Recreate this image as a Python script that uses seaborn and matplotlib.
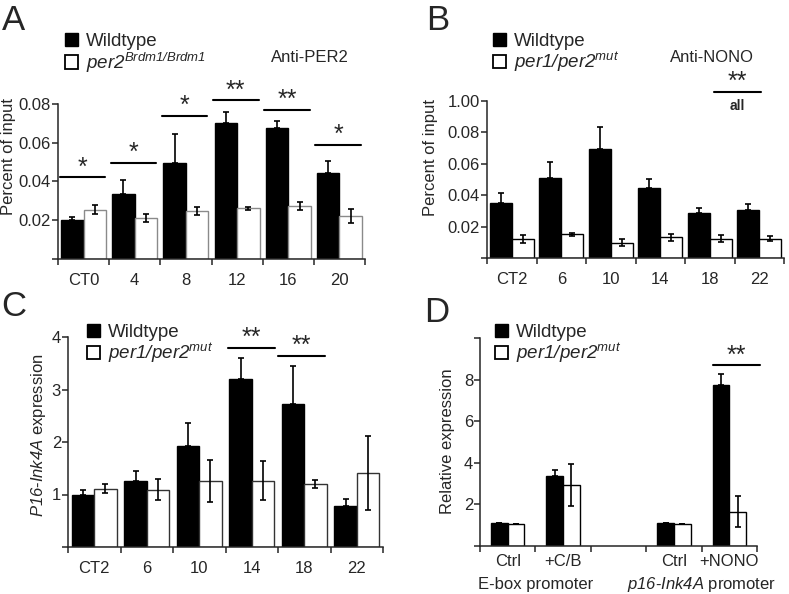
import matplotlib
matplotlib.use("Agg")
import matplotlib.pyplot as plt
import seaborn as sns
import pandas as pd
import numpy as np
from matplotlib.patches import Patch

# ---- data ----
a_times = ["CT0", "4", "8", "12", "16", "20"]
a_wt = [0.020, 0.0335, 0.0495, 0.070, 0.0678, 0.0443]
a_wt_err = [0.0018, 0.007, 0.015, 0.006, 0.0033, 0.006]
a_mut = [0.0253, 0.0212, 0.0247, 0.026, 0.0272, 0.022]
a_mut_err = [0.0023, 0.002, 0.002, 0.0006, 0.002, 0.0035]
a_sig_y = [0.0422, 0.0495, 0.074, 0.082, 0.077, 0.059]
a_sig = ["*", "*", "*", "**", "**", "*"]

b_times = ["CT2", "6", "10", "14", "18", "22"]
b_wt = [0.0353, 0.0511, 0.0695, 0.0445, 0.0289, 0.0306]
b_wt_err = [0.0064, 0.0099, 0.0141, 0.0058, 0.0031, 0.0041]
b_mut = [0.012, 0.015, 0.0098, 0.0133, 0.0124, 0.0124]
b_mut_err = [0.0025, 0.0007, 0.0023, 0.0023, 0.0025, 0.0018]

c_times = ["CT2", "6", "10", "14", "18", "22"]
c_wt = [1.0, 1.25, 1.92, 3.2, 2.73, 0.79]
c_wt_err = [0.09, 0.19, 0.44, 0.4, 0.71, 0.13]
c_mut = [1.11, 1.09, 1.25, 1.26, 1.2, 1.41]
c_mut_err = [0.09, 0.2, 0.4, 0.37, 0.08, 0.7]

d_slots = ["Ctrl_E", "C/B", "gap", "Ctrl_P", "NONO"]
d_conds = ["Ctrl_E", "C/B", "Ctrl_P", "NONO"]
d_labels = ["Ctrl", "+C/B", "", "Ctrl", "+NONO"]
d_wt = [1.09, 3.38, 1.09, 7.73]
d_wt_err = [0, 0.27, 0, 0.56]
d_mut = [1.04, 2.93, 1.04, 1.65]
d_mut_err = [0, 1.0, 0, 0.75]

sns.set_style("ticks")
plt.rcParams['font.family'] = ['Liberation Sans', 'DejaVu Sans']
plt.rcParams['mathtext.fontset'] = 'custom'
plt.rcParams['mathtext.rm'] = 'Liberation Sans:italic'
plt.rcParams['mathtext.it'] = 'Liberation Sans:italic'
plt.rcParams['axes.linewidth'] = 1.1

W, H = 789, 594
fig = plt.figure(figsize=(W / 100, H / 100), dpi=100)


def place(l, r, t, b):
    return fig.add_axes([l / W, 1 - b / H, (r - l) / W, (b - t) / H])


def bars(ax, cats, wt, wt_err, mut, mut_err, order=None, width=0.88, mut_edge="black"):
    df = pd.DataFrame({
        "cat": list(cats) * 2,
        "geno": ["WT"] * len(cats) + ["mut"] * len(cats),
        "val": list(wt) + list(mut),
    })
    sns.barplot(data=df, x="cat", y="val", hue="geno", hue_order=["WT", "mut"],
                order=order, palette={"WT": "black", "mut": "white"},
                edgecolor="black", linewidth=1.0, width=width, gap=0,
                errorbar=None, legend=False, ax=ax)
    for p in ax.containers[1]:
        p.set_edgecolor(mut_edge)
    for cont, errs, both in [(ax.containers[0], wt_err, False), (ax.containers[1], mut_err, True)]:
        xs = [p.get_x() + p.get_width() / 2 for p in cont]
        ys = [p.get_height() for p in cont]
        lo = errs if both else [0] * len(errs)
        ax.errorbar(xs, ys, yerr=[lo, errs], fmt="none", ecolor="black",
                    elinewidth=1.2, capsize=2.5, capthick=1.2, zorder=5)
    n = len(order) if order else len(cats)
    ax.set_xlim(-0.5, n - 0.5)
    ax.set_xticks(np.arange(n))
    ax.set_xticks(np.arange(-0.5, n), minor=True)
    ax.tick_params(axis="x", which="major", length=0, labelsize=12, pad=10)
    ax.tick_params(axis="x", which="minor", length=4, width=1.1, direction="out")
    ax.tick_params(axis="y", length=4, width=1.1, labelsize=12, pad=1)
    ax.set_xlabel("")
    sns.despine(ax=ax)


def sig(ax, x0, x1, y, txt):
    ax.plot([x0, x1], [y, y], color="black", lw=1.5, clip_on=False)
    ax.annotate(txt, ((x0 + x1) / 2, y), xytext=(0, 7), textcoords="offset points",
                ha="center", va="center", fontsize=18, annotation_clip=False)


def legend(ax, x, y, mut_label):
    h = [Patch(facecolor="black", edgecolor="black"),
         Patch(facecolor="white", edgecolor="black", linewidth=1.3)]
    ax.legend(h, ["Wildtype", mut_label], loc="upper left",
              bbox_to_anchor=(x / W, 1 - y / H), bbox_transform=fig.transFigure,
              frameon=False, fontsize=13.5, handlelength=0.7, handleheight=0.7,
              handletextpad=0.4, labelspacing=0.02, borderpad=0, borderaxespad=0)


mut12 = r"$\mathit{per1/per2}^{\mathit{mut}}$"

# ---- A ----
axA = place(58, 365, 104, 258.7)
bars(axA, a_times, a_wt, a_wt_err, a_mut, a_mut_err, mut_edge="#8a8a8a")
axA.set_ylim(0, 0.08)
axA.set_yticks([0, 0.02, 0.04, 0.06, 0.08])
axA.set_yticklabels(["", "0.02", "0.04", "0.06", "0.08"])
axA.set_xticklabels(a_times)
axA.set_ylabel("Percent of input", fontsize=12)
axA.yaxis.set_label_coords(-0.137, 0.66)
for i, (y, s) in enumerate(zip(a_sig_y, a_sig)):
    sig(axA, i - 0.47, i + 0.42, y, s)
legend(axA, 65, 33, r"$\mathit{per2}^{\mathit{Brdm1/Brdm1}}$")
fig.text(310 / W, 1 - 57 / H, "Anti-PER2", fontsize=12, ha="center", va="center")

# ---- B ----
axB = place(487, 784, 101, 258)
bars(axB, b_times, b_wt, b_wt_err, b_mut, b_mut_err, width=0.89)
axB.set_ylim(0, 0.10)
axB.set_yticks([0, 0.02, 0.04, 0.06, 0.08, 0.10])
axB.set_yticklabels(["", "0.02", "0.04", "0.06", "0.08", "1.00"])
axB.set_xticklabels(b_times)
axB.set_ylabel("Percent of input", fontsize=12)
axB.yaxis.set_label_coords(-0.165, 0.64)
sig(axB, 4.09, 5.04, 0.1058, "**")
axB.annotate("all", (4.56, 0.1058), xytext=(0, -10), textcoords="offset points",
             ha="center", va="center", fontsize=10, fontweight="bold", annotation_clip=False)
legend(axB, 493, 33, mut12)
fig.text(712 / W, 1 - 57 / H, "Anti-NONO", fontsize=12, ha="center", va="center")

# ---- C ----
axC = place(68, 383, 337, 547)
bars(axC, c_times, c_wt, c_wt_err, c_mut, c_mut_err, width=0.85, mut_edge="#333333")
axC.set_ylim(0, 4)
axC.set_yticks([0, 1, 2, 3, 4])
axC.set_yticklabels(["", "1", "2", "3", "4"])
axC.set_xticklabels(c_times)
axC.set_ylabel(r"$\mathit{P16}$-$\mathit{Ink4A}$ expression", fontsize=12)
axC.yaxis.set_label_coords(-0.063, 0.53)
sig(axC, 2.55, 3.44, 3.8, "**")
sig(axC, 3.5, 4.4, 3.64, "**")
legend(axC, 87, 324, mut12)

# ---- D ----
axD = place(480, 757, 338, 546)
bars(axD, d_conds, d_wt, d_wt_err, d_mut, d_mut_err, order=d_slots, width=0.6)
axD.set_ylim(0, 10)
axD.set_yticks([0, 2, 4, 6, 8, 10])
axD.set_yticklabels(["", "2", "4", "6", "8", ""])
axD.set_xticklabels(d_labels)
axD.tick_params(axis="x", which="major", pad=6)
axD.set_ylabel("Relative expression", fontsize=12)
axD.yaxis.set_label_coords(-0.09, 0.505)
sig(axD, 3.7, 4.55, 8.69, "**")
axD.text(0.5, -0.185, "E-box promoter", transform=axD.get_xaxis_transform(),
         ha="center", va="center", fontsize=12)
axD.text(3.5, -0.185, r"$\mathit{p16}$-$\mathit{Ink4A}$ promoter", transform=axD.get_xaxis_transform(),
         ha="center", va="center", fontsize=12)
legend(axD, 495, 324, mut12)

# panel letters
for letter, x, y in [("A", 14, 20), ("B", 438, 20), ("C", 14, 306), ("D", 437, 312)]:
    fig.text(x / W, 1 - y / H, letter, fontsize=25, ha="center", va="center")

fig.savefig("out.png", dpi=100)
